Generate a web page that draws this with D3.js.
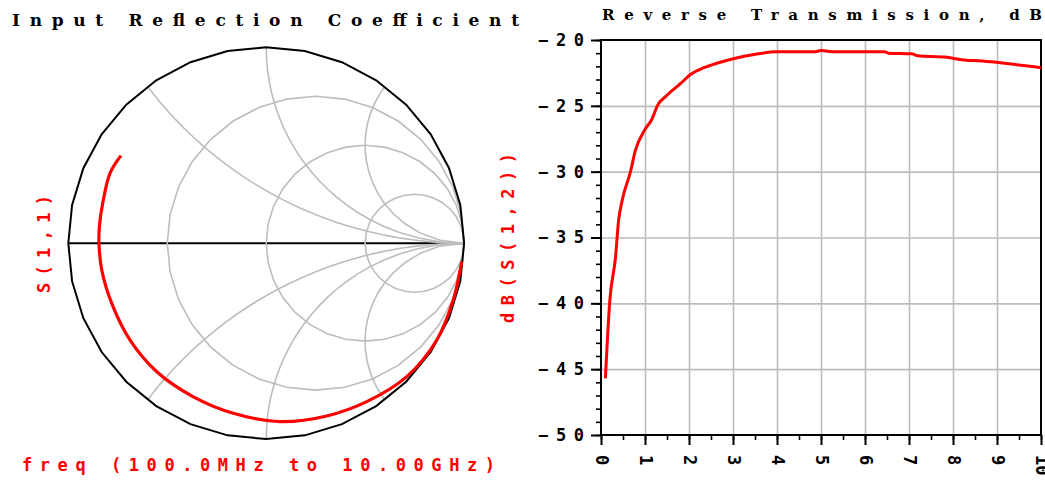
<!DOCTYPE html>
<html>
<head>
<meta charset="utf-8">
<script src="https://cdn.jsdelivr.net/npm/d3@7"></script>
<style>
  body { margin: 0; background: #fff; }
  svg { display: block; }
  text { font-family: "DejaVu Sans Mono", monospace; }
  text.title { font-family: "DejaVu Serif", serif; }
</style>
</head>
<body>
<div id="chart"></div>
<script>
const s11Re = [-0.734, -0.789, -0.826, -0.843, -0.845, -0.831, -0.781, -0.688, -0.553,
  -0.368, -0.166, 0.070, 0.306, 0.508, 0.710, 0.862, 0.945, 0.988];
const s11Im = [0.447, 0.358, 0.205, 0.084, 0.0, -0.137, -0.306, -0.495, -0.656,
  -0.784, -0.868, -0.911, -0.882, -0.809, -0.681, -0.494, -0.290, -0.094];

// Smith chart grid values
const rCircles = [1 / 3, 1, 3];
const xArcs = [0.5, 1, 2, -0.5, -1, -2];

// dB(S(1,2)) vs frequency
const freqGHz = [0.1, 0.2, 0.33, 0.40, 0.48, 0.67, 0.78, 1.0, 1.16, 1.28, 1.5, 1.81, 2.04,
  2.34, 2.65, 3.03, 3.48, 4.0, 4.85, 5.0, 5.31, 6.45, 6.53, 7.06, 7.2, 7.82, 8.2, 8.66,
  9.12, 9.5, 10.0];
const s12dB = [-45.7, -39.8, -36.5, -33.7, -32.2, -30.0, -28.4, -26.8, -26.0, -25.0, -24.2,
  -23.3, -22.6, -22.1, -21.75, -21.4, -21.1, -20.9, -20.9, -20.8, -20.9, -20.9, -21.0,
  -21.05, -21.2, -21.3, -21.5, -21.6, -21.75, -21.9, -22.1];

const xTicks = [0, 1, 2, 3, 4, 5, 6, 7, 8, 9, 10];
const yTicks = [-50, -45, -40, -35, -30, -25, -20];

const W = 1045, H = 480;
const RED = '#ff0000';
const GRID = '#bdbdbd';

const svg = d3.select('#chart').append('svg')
  .attr('width', W)
  .attr('height', H);

// ---------- Smith chart ----------
const sx = d3.scaleLinear().domain([-1, 1]).range([68.3, 464.1]);
const sy = d3.scaleLinear().domain([-1, 1]).range([439.1, 47.3]);
const pline = d3.line().x(d => sx(d[0])).y(d => sy(d[1]));

const smith = svg.append('g');

// real axis
smith.append('line')
  .attr('x1', sx(-1)).attr('x2', sx(1))
  .attr('y1', sy(0)).attr('y2', sy(0))
  .attr('stroke', '#000').attr('stroke-width', 2);

const ngon = (cx, cy, r, n) => d3.range(n + 1).map(i => {
  const a = 2 * Math.PI * i / n;
  return [cx + r * Math.cos(a), cy + r * Math.sin(a)];
});

smith.selectAll('.rcirc')
  .data(rCircles)
  .join('path')
  .attr('class', 'rcirc')
  .attr('d', r => pline(ngon(r / (r + 1), 0, 1 / (r + 1), 32)))
  .attr('fill', 'none').attr('stroke', GRID).attr('stroke-width', 1.6);

// reactance arcs: z = r + jx, r from 0 to infinity
const arcPts = x => {
  const pts = d3.range(0, 24).map(i => {
    const r = Math.tan((Math.PI / 2) * i / 24);
    const D = (r + 1) * (r + 1) + x * x;
    return [(r * r + x * x - 1) / D, 2 * x / D];
  });
  pts.push([1, 0]);
  return pts;
};

smith.selectAll('.xarc')
  .data(xArcs)
  .join('path')
  .attr('class', 'xarc')
  .attr('d', x => pline(arcPts(x)))
  .attr('fill', 'none').attr('stroke', GRID).attr('stroke-width', 1.6);

smith.append('path')
  .attr('d', pline(ngon(0, 0, 1, 32)))
  .attr('fill', 'none').attr('stroke', '#000').attr('stroke-width', 2);

smith.append('path')
  .datum(d3.range(s11Re.length))
  .attr('d', d3.line()
    .x(i => sx(s11Re[i]))
    .y(i => sy(s11Im[i]))
    .curve(d3.curveCatmullRom))
  .attr('fill', 'none').attr('stroke', RED).attr('stroke-width', 3.2);

// ---------- Reverse transmission plot ----------
const pad = {l: 601, r: 1041, t: 40, b: 435};
const x = d3.scaleLinear().domain([0, 10]).range([pad.l, pad.r]);
const y = d3.scaleLinear().domain([-50, -20]).range([pad.b, pad.t]);

const plot = svg.append('g');

// grid
plot.append('g')
  .attr('transform', `translate(0, ${pad.b})`)
  .call(d3.axisBottom(x).tickValues(xTicks.slice(1, -1)).tickSize(-(pad.b - pad.t)).tickFormat(''))
  .call(g => g.select('.domain').remove())
  .selectAll('line').attr('stroke', GRID).attr('stroke-width', 1.6);
plot.append('g')
  .attr('transform', `translate(${pad.l}, 0)`)
  .call(d3.axisLeft(y).tickValues(yTicks.slice(1, -1)).tickSize(-(pad.r - pad.l)).tickFormat(''))
  .call(g => g.select('.domain').remove())
  .selectAll('line').attr('stroke', GRID).attr('stroke-width', 1.6);

plot.append('rect')
  .attr('x', pad.l).attr('y', pad.t)
  .attr('width', pad.r - pad.l).attr('height', pad.b - pad.t)
  .attr('fill', 'none').attr('stroke', '#000').attr('stroke-width', 2);

// minor ticks
plot.append('g')
  .attr('transform', `translate(${pad.l}, 0)`)
  .call(d3.axisLeft(y).ticks(30).tickSize(5).tickSizeOuter(0).tickFormat(''))
  .call(g => g.select('.domain').remove())
  .selectAll('line').attr('stroke', '#000').attr('stroke-width', 1.6);
plot.append('g')
  .attr('transform', `translate(0, ${pad.b})`)
  .call(d3.axisBottom(x).ticks(20).tickSize(5).tickSizeOuter(0).tickFormat(''))
  .call(g => g.select('.domain').remove())
  .selectAll('line').attr('stroke', '#000').attr('stroke-width', 1.6);

// major ticks + labels
const yAx = plot.append('g')
  .attr('transform', `translate(${pad.l}, 0)`)
  .call(d3.axisLeft(y).tickValues(yTicks).tickSize(10).tickSizeOuter(0)
    .tickFormat(d => '\u2212' + Math.abs(d)));
yAx.select('.domain').remove();
yAx.selectAll('line').attr('stroke', '#000').attr('stroke-width', 2);
yAx.selectAll('text')
  .attr('x', -17)
  .attr('fill', '#000')
  .attr('font-size', 17).attr('font-weight', 'bold')
  .attr('textLength', 46).attr('lengthAdjust', 'spacing');

const xAx = plot.append('g')
  .attr('transform', `translate(0, ${pad.b})`)
  .call(d3.axisBottom(x).tickValues(xTicks).tickSize(10).tickSizeOuter(0).tickFormat(d3.format('d')));
xAx.select('.domain').remove();
xAx.selectAll('line').attr('stroke', '#000').attr('stroke-width', 2);
xAx.selectAll('text')
  .attr('y', 0).attr('dy', '0.35em')
  .attr('transform', 'translate(0, 20) rotate(90)')
  .attr('text-anchor', 'start')
  .attr('fill', '#000')
  .attr('font-size', 17).attr('font-weight', 'bold');

plot.append('path')
  .datum(d3.range(freqGHz.length))
  .attr('d', d3.line()
    .x(i => x(freqGHz[i]))
    .y(i => y(s12dB[i]))
    .curve(d3.curveMonotoneX))
  .attr('fill', 'none').attr('stroke', RED).attr('stroke-width', 3);

// ---------- titles and labels ----------
svg.append('text')
  .attr('class', 'title')
  .attr('x', 12).attr('y', 26)
  .attr('font-size', 17).attr('font-weight', 'bold')
  .attr('textLength', 507).attr('lengthAdjust', 'spacing')
  .text('Input Reflection Coefficient');

svg.append('text')
  .attr('class', 'title')
  .attr('x', 602).attr('y', 19.5)
  .attr('font-size', 15).attr('font-weight', 'bold')
  .attr('textLength', 440).attr('lengthAdjust', 'spacing')
  .text('Reverse Transmission, dB');

svg.append('text')
  .attr('transform', 'translate(50, 293) rotate(-90)')
  .attr('font-size', 17).attr('font-weight', 'bold').attr('fill', RED)
  .attr('textLength', 98).attr('lengthAdjust', 'spacing')
  .text('S(1,1)');

svg.append('text')
  .attr('transform', 'translate(514, 323) rotate(-90)')
  .attr('font-size', 17).attr('font-weight', 'bold').attr('fill', RED)
  .attr('textLength', 170).attr('lengthAdjust', 'spacing')
  .text('dB(S(1,2))');

svg.append('text')
  .attr('x', 22).attr('y', 471)
  .attr('font-size', 17).attr('font-weight', 'bold').attr('fill', RED)
  .attr('textLength', 473).attr('lengthAdjust', 'spacing')
  .text('freq (100.0MHz to 10.00GHz)');
</script>
</body>
</html>
